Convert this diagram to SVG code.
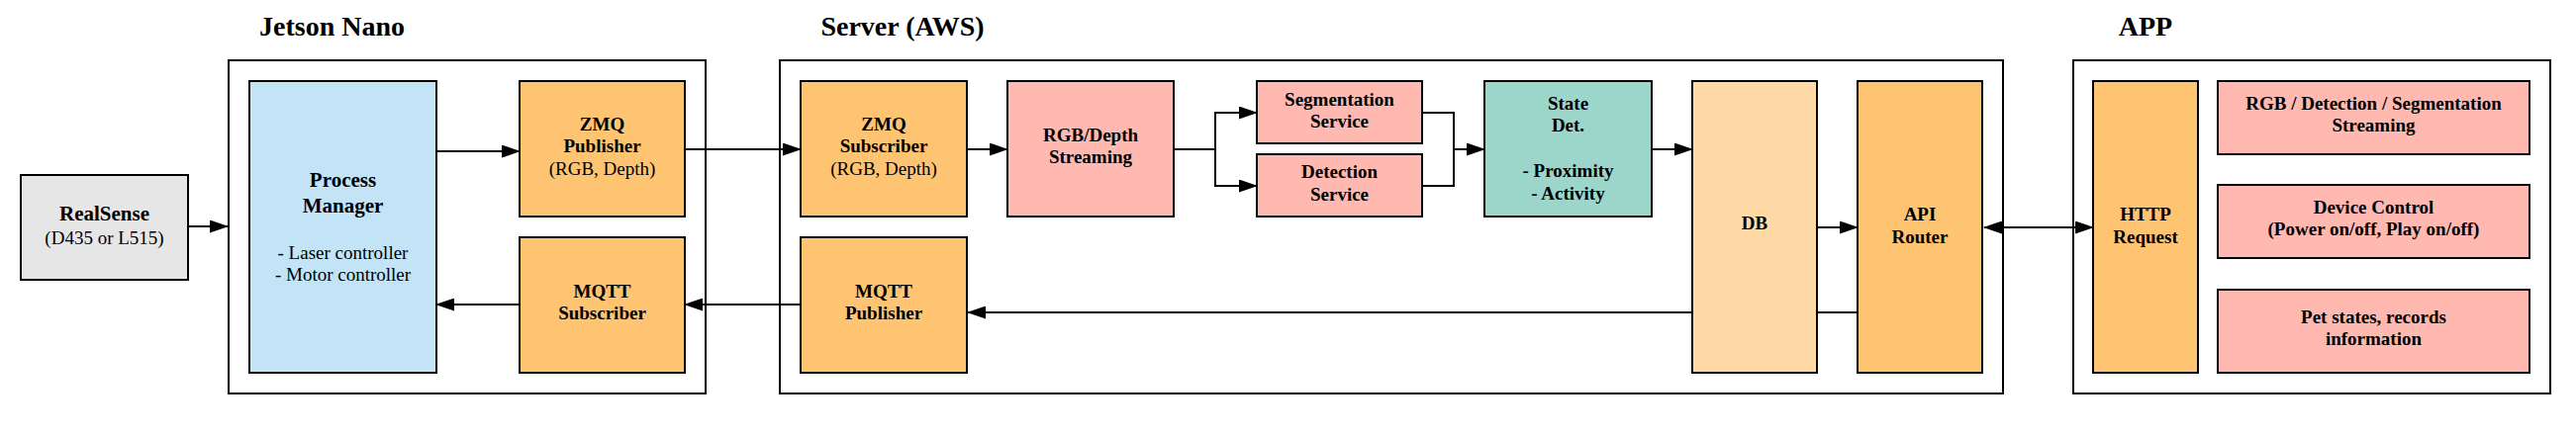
<svg xmlns="http://www.w3.org/2000/svg" width="2603" height="441" viewBox="0 0 2603 441">
<style>
  .box{stroke:#000;stroke-width:2}
  .cont{fill:#fff;stroke:#000;stroke-width:2}
  .orange{fill:#FFC472}
  .pink{fill:#FFB9B1}
  .blue{fill:#C3E4F6}
  .teal{fill:#9CD6CB}
  .db{fill:#FFDAA6}
  .grey{fill:#E6E6E6}
  text{font-family:"Liberation Serif","Times New Roman",serif;text-anchor:middle;fill:#000}
  .t{font-size:19px;font-weight:bold}
  .tl{font-size:21px;font-weight:bold}
  .r{font-size:19px;font-weight:normal}
  .title{font-size:28px;font-weight:bold}
  .c{fill:none;stroke:#000;stroke-width:2}
</style>
<defs>
  <marker id="arr" viewBox="0 0 19 13" markerWidth="19" markerHeight="13" refX="18" refY="6.5" orient="auto-start-reverse" markerUnits="userSpaceOnUse">
    <path d="M0,0 L19,6.5 L0,13 z" fill="#000"/>
  </marker>
</defs>
<rect width="2603" height="441" fill="#fff"/>

<g id="titles">
  <text class="title" x="335.5" y="36">Jetson Nano</text>
  <text class="title" x="912" y="36">Server (AWS)</text>
  <text class="title" x="2168" y="36">APP</text>
</g>

<g id="containers">
  <rect id="jetson" class="cont" x="231" y="61" width="482" height="337"/>
  <rect id="server" class="cont" x="788" y="61" width="1236" height="337"/>
  <rect id="app" class="cont" x="2095" y="61" width="482" height="337"/>
</g>

<g id="connectors">
  <path class="c" d="M190,229 H230" marker-end="url(#arr)"/>
  <path class="c" d="M441,153 H525" marker-end="url(#arr)"/>
  <path class="c" d="M692,151 H809" marker-end="url(#arr)"/>
  <path class="c" d="M977,151 H1018" marker-end="url(#arr)"/>
  <path class="c" d="M1186,151 H1228 V114 H1270" marker-end="url(#arr)"/>
  <path class="c" d="M1228,151 V188 H1270" marker-end="url(#arr)"/>
  <path class="c" d="M1437,114 H1469 V151 H1500" marker-end="url(#arr)"/>
  <path class="c" d="M1437,188 H1469 V151"/>
  <path class="c" d="M1669,151 H1710" marker-end="url(#arr)"/>
  <path class="c" d="M1836,230 H1877" marker-end="url(#arr)"/>
  <path class="c" d="M1877,316 H978" marker-end="url(#arr)"/>
  <path class="c" d="M809,308 H692" marker-end="url(#arr)"/>
  <path class="c" d="M525,308 H441" marker-end="url(#arr)"/>
  <path class="c" d="M2005,230 H2115" marker-start="url(#arr)" marker-end="url(#arr)"/>
</g>

<g id="realsense">
  <rect class="box grey" x="21" y="177" width="169" height="106"/>
  <text class="tl" x="105.5" y="223">RealSense</text>
  <text class="r" x="105.5" y="247">(D435 or L515)</text>
</g>
<g id="process-manager">
  <rect class="box blue" x="252" y="82" width="189" height="295"/>
  <text class="tl" x="346.5" y="189">Process</text>
  <text class="tl" x="346.5" y="215">Manager</text>
  <text class="r" x="346.5" y="262">- Laser controller</text>
  <text class="r" x="346.5" y="284">- Motor controller</text>
</g>
<g id="zmq-publisher">
  <rect class="box orange" x="525" y="82" width="167" height="137"/>
  <text class="t" x="608.5" y="132">ZMQ</text>
  <text class="t" x="608.5" y="154">Publisher</text>
  <text class="r" x="608.5" y="177">(RGB, Depth)</text>
</g>
<g id="mqtt-subscriber">
  <rect class="box orange" x="525" y="240" width="167" height="137"/>
  <text class="t" x="608.5" y="301">MQTT</text>
  <text class="t" x="608.5" y="323">Subscriber</text>
</g>
<g id="zmq-subscriber">
  <rect class="box orange" x="809" y="82" width="168" height="137"/>
  <text class="t" x="893" y="132">ZMQ</text>
  <text class="t" x="893" y="154">Subscriber</text>
  <text class="r" x="893" y="177">(RGB, Depth)</text>
</g>
<g id="mqtt-publisher">
  <rect class="box orange" x="809" y="240" width="168" height="137"/>
  <text class="t" x="893" y="301">MQTT</text>
  <text class="t" x="893" y="323">Publisher</text>
</g>
<g id="rgb-depth-streaming">
  <rect class="box pink" x="1018" y="82" width="168" height="137"/>
  <text class="t" x="1102" y="143">RGB/Depth</text>
  <text class="t" x="1102" y="165">Streaming</text>
</g>
<g id="segmentation-service">
  <rect class="box pink" x="1270" y="82" width="167" height="63"/>
  <text class="t" x="1353.5" y="107">Segmentation</text>
  <text class="t" x="1353.5" y="129">Service</text>
</g>
<g id="detection-service">
  <rect class="box pink" x="1270" y="156" width="167" height="63"/>
  <text class="t" x="1353.5" y="180">Detection</text>
  <text class="t" x="1353.5" y="203">Service</text>
</g>
<g id="state-det">
  <rect class="box teal" x="1500" y="82" width="169" height="137"/>
  <text class="t" x="1584.5" y="111">State</text>
  <text class="t" x="1584.5" y="133">Det.</text>
  <text class="t" x="1584.5" y="179">- Proximity</text>
  <text class="t" x="1584.5" y="202">- Activity</text>
</g>
<g id="db">
  <rect class="box db" x="1710" y="82" width="126" height="295"/>
  <text class="t" x="1773" y="232">DB</text>
</g>
<g id="api-router">
  <rect class="box orange" x="1877" y="82" width="126" height="295"/>
  <text class="t" x="1940" y="223">API</text>
  <text class="t" x="1940" y="246">Router</text>
</g>
<g id="http-request">
  <rect class="box orange" x="2115" y="82" width="106" height="295"/>
  <text class="t" x="2168" y="223">HTTP</text>
  <text class="t" x="2168" y="246">Request</text>
</g>
<g id="app-streaming">
  <rect class="box pink" x="2241" y="82" width="315" height="74"/>
  <text class="t" x="2398.5" y="111">RGB / Detection / Segmentation</text>
  <text class="t" x="2398.5" y="133">Streaming</text>
</g>
<g id="device-control">
  <rect class="box pink" x="2241" y="187" width="315" height="74"/>
  <text class="t" x="2398.5" y="216">Device Control</text>
  <text class="t" x="2398.5" y="238">(Power on/off, Play on/off)</text>
</g>
<g id="pet-states">
  <rect class="box pink" x="2241" y="293" width="315" height="84"/>
  <text class="t" x="2398.5" y="327">Pet states, records</text>
  <text class="t" x="2398.5" y="349">information</text>
</g>
</svg>
